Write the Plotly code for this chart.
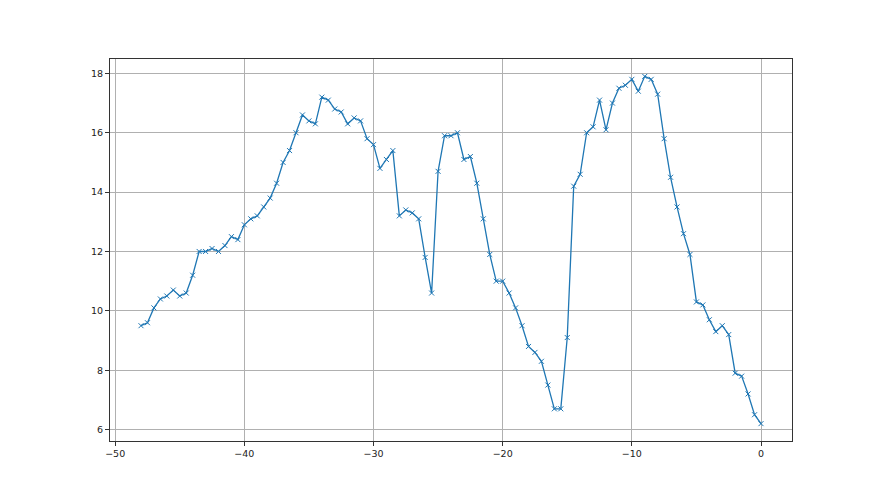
import plotly.graph_objects as go

x_vals = [-48, -47.5, -47, -46.5, -46, -45.5, -45, -44.5, -44, -43.5,
          -43, -42.5, -42, -41.5, -41, -40.5, -40, -39.5, -39, -38.5,
          -38, -37.5, -37, -36.5, -36, -35.5, -35, -34.5, -34, -33.5,
          -33, -32.5, -32, -31.5, -31, -30.5, -30, -29.5, -29, -28.5,
          -28, -27.5, -27, -26.5, -26, -25.5, -25, -24.5, -24, -23.5,
          -23, -22.5, -22, -21.5, -21, -20.5, -20, -19.5, -19, -18.5,
          -18, -17.5, -17, -16.5, -16, -15.5, -15, -14.5, -14, -13.5,
          -13, -12.5, -12, -11.5, -11, -10.5, -10, -9.5, -9, -8.5,
          -8, -7.5, -7, -6.5, -6, -5.5, -5, -4.5, -4, -3.5,
          -3, -2.5, -2, -1.5, -1, -0.5, 0]

y_vals = [9.5, 9.6, 10.1, 10.4, 10.5, 10.7, 10.5, 10.6, 11.2, 12.0,
          12.0, 12.1, 12.0, 12.2, 12.5, 12.4, 12.9, 13.1, 13.2, 13.5,
          13.8, 14.3, 15.0, 15.4, 16.0, 16.6, 16.4, 16.3, 17.2, 17.1,
          16.8, 16.7, 16.3, 16.5, 16.4, 15.8, 15.6, 14.8, 15.1, 15.4,
          13.2, 13.4, 13.3, 13.1, 11.8, 10.6, 14.7, 15.9, 15.9, 16.0,
          15.1, 15.2, 14.3, 13.1, 11.9, 11.0, 11.0, 10.6, 10.1, 9.5,
          8.8, 8.6, 8.3, 7.5, 6.7, 6.7, 9.1, 14.2, 14.6, 16.0,
          16.2, 17.1, 16.1, 17.0, 17.5, 17.6, 17.8, 17.4, 17.9, 17.8,
          17.3, 15.8, 14.5, 13.5, 12.6, 11.9, 10.3, 10.2, 9.7, 9.3,
          9.5, 9.2, 7.9, 7.8, 7.2, 6.5, 6.2]

x_ticks = [-50, -40, -30, -20, -10, 0]
y_ticks = [6, 8, 10, 12, 14, 16, 18]

color = "#1f77b4"

fig = go.Figure()
fig.add_trace(go.Scatter(
    x=x_vals, y=y_vals, mode="lines+markers",
    line=dict(color=color, width=1.3),
    marker=dict(symbol="x-thin", size=5, line=dict(color=color, width=1.0), color=color),
    showlegend=False,
))

axis_common = dict(
    showgrid=True, gridcolor="#b0b0b0", gridwidth=0.8,
    zeroline=False, showline=True, linecolor="#333333", linewidth=1,
    mirror=True, ticks="outside", ticklen=4, tickwidth=1, tickcolor="#333333",
    tickfont=dict(family="DejaVu Sans", size=9.5, color="#222222"),
)

xmin, xmax = min(x_vals), max(x_vals)
ymin, ymax = min(y_vals), max(y_vals)
xpad = 0.05 * (xmax - xmin)
ypad = 0.05 * (ymax - ymin)

fig.update_xaxes(range=[xmin - xpad, xmax + xpad], tickvals=x_ticks,
                 ticktext=[f"\u2212{abs(t)}" if t < 0 else str(t) for t in x_ticks],
                 **axis_common)
fig.update_yaxes(range=[ymin - ypad, ymax + ypad], tickvals=y_ticks, **axis_common)

fig.update_layout(
    width=880, height=495,
    margin=dict(l=102, r=96, t=51, b=62),
    paper_bgcolor="white", plot_bgcolor="white",
)

fig.write_html("out.html")
